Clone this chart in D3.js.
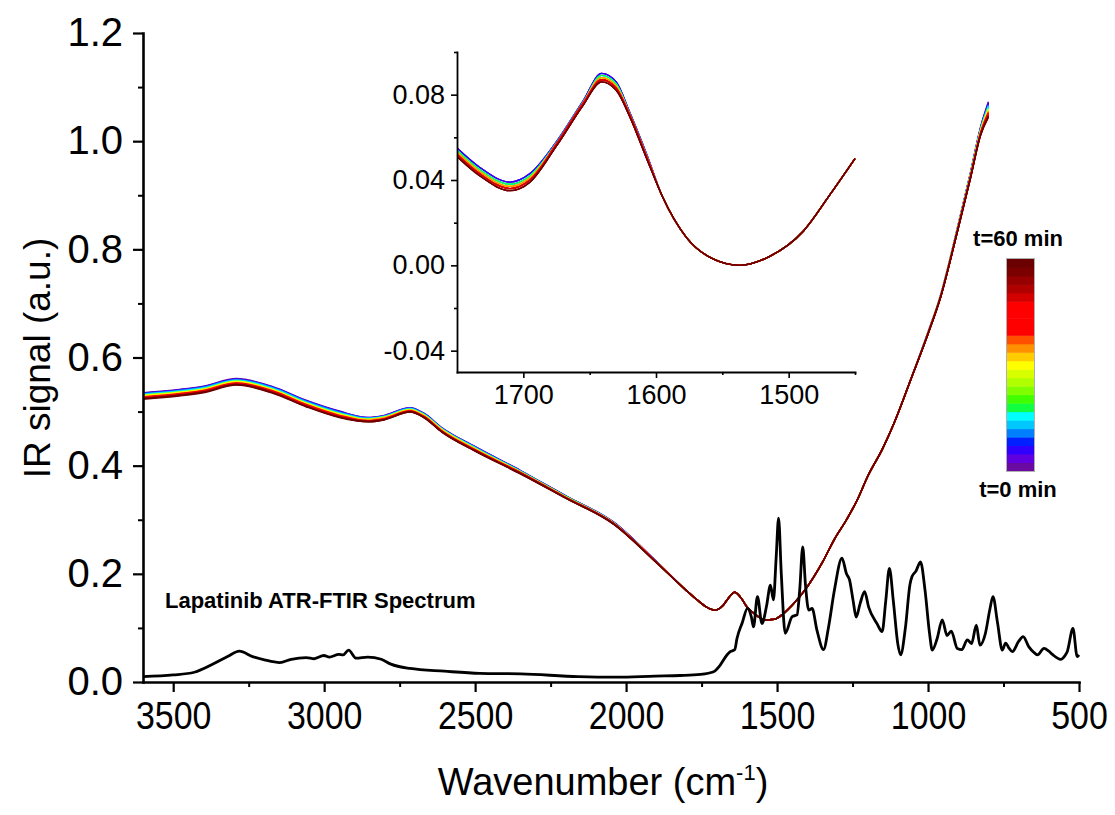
<!DOCTYPE html>
<html>
<head>
<meta charset="utf-8">
<script src="https://cdn.jsdelivr.net/npm/d3@7"></script>
<style>
  body { margin: 0; background: #fff; }
  svg { display: block; font-family: "Liberation Sans", Arial, sans-serif; }
</style>
</head>
<body>
<div id="chart"></div>
<script>
// time points of the in-situ spectra (min)
const spectraTimes = [0, 3, 6, 9, 12, 15, 18, 21, 24, 27, 30, 33, 36, 39, 42, 45, 48, 51, 54, 57, 60];

// time-resolved spectra, high wavenumber part (one row per time point)
const highWn = [3600, 3480, 3400, 3290, 3170, 3060, 2950, 2855, 2800, 2716, 2670, 2610, 2500, 2350, 2200, 2040, 1900];
const highSignal = [
  [0.535, 0.541, 0.547, 0.561, 0.546, 0.521, 0.501, 0.489, 0.493, 0.507, 0.497, 0.470, 0.435, 0.391, 0.344, 0.295, 0.223],
  [0.534, 0.540, 0.546, 0.560, 0.545, 0.520, 0.500, 0.489, 0.493, 0.507, 0.497, 0.470, 0.435, 0.391, 0.344, 0.295, 0.223],
  [0.534, 0.540, 0.546, 0.560, 0.545, 0.520, 0.500, 0.488, 0.492, 0.506, 0.496, 0.469, 0.434, 0.390, 0.344, 0.294, 0.223],
  [0.533, 0.539, 0.545, 0.559, 0.544, 0.519, 0.499, 0.488, 0.492, 0.506, 0.496, 0.469, 0.434, 0.390, 0.343, 0.294, 0.223],
  [0.532, 0.538, 0.544, 0.558, 0.543, 0.518, 0.498, 0.487, 0.491, 0.505, 0.495, 0.468, 0.433, 0.390, 0.343, 0.294, 0.222],
  [0.531, 0.537, 0.543, 0.557, 0.542, 0.517, 0.497, 0.487, 0.491, 0.505, 0.495, 0.468, 0.433, 0.389, 0.343, 0.294, 0.222],
  [0.530, 0.536, 0.542, 0.556, 0.541, 0.516, 0.496, 0.486, 0.490, 0.504, 0.494, 0.467, 0.432, 0.389, 0.343, 0.293, 0.222],
  [0.528, 0.534, 0.540, 0.554, 0.539, 0.514, 0.494, 0.484, 0.488, 0.502, 0.492, 0.465, 0.430, 0.388, 0.342, 0.293, 0.222],
  [0.529, 0.535, 0.541, 0.555, 0.540, 0.515, 0.495, 0.485, 0.489, 0.503, 0.493, 0.466, 0.431, 0.388, 0.342, 0.293, 0.222],
  [0.530, 0.536, 0.542, 0.556, 0.541, 0.516, 0.496, 0.486, 0.490, 0.504, 0.494, 0.467, 0.432, 0.388, 0.342, 0.293, 0.222],
  [0.529, 0.535, 0.541, 0.555, 0.540, 0.515, 0.495, 0.484, 0.488, 0.502, 0.492, 0.465, 0.430, 0.388, 0.342, 0.293, 0.222],
  [0.528, 0.534, 0.540, 0.554, 0.539, 0.514, 0.494, 0.485, 0.489, 0.503, 0.493, 0.466, 0.431, 0.388, 0.342, 0.293, 0.222],
  [0.527, 0.533, 0.539, 0.553, 0.538, 0.513, 0.493, 0.484, 0.488, 0.502, 0.492, 0.465, 0.430, 0.387, 0.342, 0.293, 0.222],
  [0.527, 0.533, 0.539, 0.553, 0.538, 0.513, 0.493, 0.483, 0.487, 0.501, 0.491, 0.464, 0.429, 0.387, 0.341, 0.293, 0.222],
  [0.526, 0.532, 0.538, 0.552, 0.537, 0.512, 0.492, 0.483, 0.487, 0.501, 0.491, 0.464, 0.429, 0.387, 0.341, 0.292, 0.222],
  [0.526, 0.532, 0.538, 0.552, 0.537, 0.512, 0.492, 0.482, 0.486, 0.500, 0.490, 0.463, 0.428, 0.387, 0.341, 0.292, 0.222],
  [0.525, 0.531, 0.537, 0.551, 0.536, 0.511, 0.491, 0.482, 0.486, 0.500, 0.490, 0.463, 0.428, 0.386, 0.341, 0.292, 0.222],
  [0.525, 0.531, 0.537, 0.551, 0.536, 0.511, 0.491, 0.482, 0.486, 0.500, 0.490, 0.463, 0.428, 0.386, 0.341, 0.292, 0.221],
  [0.524, 0.530, 0.536, 0.550, 0.535, 0.510, 0.490, 0.482, 0.486, 0.500, 0.490, 0.463, 0.428, 0.386, 0.340, 0.292, 0.221],
  [0.524, 0.530, 0.536, 0.550, 0.535, 0.510, 0.490, 0.481, 0.485, 0.499, 0.489, 0.462, 0.427, 0.385, 0.340, 0.292, 0.221],
  [0.523, 0.529, 0.535, 0.549, 0.534, 0.509, 0.489, 0.481, 0.485, 0.499, 0.489, 0.462, 0.427, 0.385, 0.340, 0.291, 0.221]
];

// middle part where all spectra overlap
const midWn = [1800, 1765, 1735, 1705, 1680, 1660, 1640, 1620, 1600, 1570, 1540, 1510, 1480, 1450, 1400, 1350, 1312, 1270, 1235, 1200, 1150, 1113, 1058];
const midSignal = [0.169, 0.152, 0.139, 0.133, 0.141, 0.156, 0.166, 0.156, 0.139, 0.124, 0.115, 0.116, 0.126, 0.142, 0.176, 0.221, 0.262, 0.300, 0.336, 0.380, 0.432, 0.478, 0.558];

// low wavenumber end (one row per time point)
const endWn = [1000, 959, 903, 860, 826, 800];
const endSignal = [
  [0.647, 0.714, 0.838, 0.940, 1.026, 1.073],
  [0.646, 0.714, 0.838, 0.940, 1.025, 1.071],
  [0.646, 0.713, 0.837, 0.939, 1.024, 1.069],
  [0.646, 0.713, 0.837, 0.938, 1.023, 1.067],
  [0.646, 0.713, 0.837, 0.938, 1.022, 1.065],
  [0.646, 0.713, 0.836, 0.937, 1.021, 1.063],
  [0.645, 0.712, 0.836, 0.936, 1.020, 1.061],
  [0.645, 0.712, 0.835, 0.934, 1.017, 1.057],
  [0.645, 0.712, 0.835, 0.935, 1.018, 1.059],
  [0.645, 0.712, 0.836, 0.936, 1.019, 1.060],
  [0.645, 0.712, 0.835, 0.935, 1.018, 1.058],
  [0.645, 0.712, 0.835, 0.934, 1.017, 1.056],
  [0.645, 0.712, 0.834, 0.934, 1.016, 1.055],
  [0.645, 0.711, 0.834, 0.933, 1.015, 1.053],
  [0.644, 0.711, 0.834, 0.933, 1.015, 1.052],
  [0.644, 0.711, 0.833, 0.932, 1.014, 1.051],
  [0.644, 0.711, 0.833, 0.932, 1.013, 1.049],
  [0.644, 0.711, 0.833, 0.931, 1.013, 1.048],
  [0.644, 0.711, 0.832, 0.931, 1.012, 1.047],
  [0.644, 0.710, 0.832, 0.930, 1.011, 1.046],
  [0.643, 0.710, 0.832, 0.930, 1.011, 1.044]
];

// inset: baseline corrected 1750-1450 cm-1
const insetHeadWn = [1750, 1733, 1710, 1695, 1675, 1655, 1641, 1630, 1620, 1607];
const insetHeadSignal = [
  [0.055, 0.046, 0.039, 0.043, 0.058, 0.077, 0.090, 0.086, 0.072, 0.052],
  [0.055, 0.046, 0.039, 0.043, 0.058, 0.077, 0.090, 0.086, 0.072, 0.052],
  [0.055, 0.046, 0.039, 0.043, 0.058, 0.077, 0.090, 0.086, 0.072, 0.052],
  [0.054, 0.045, 0.038, 0.042, 0.058, 0.077, 0.089, 0.085, 0.072, 0.052],
  [0.054, 0.045, 0.038, 0.042, 0.057, 0.076, 0.089, 0.085, 0.071, 0.051],
  [0.054, 0.045, 0.038, 0.042, 0.057, 0.076, 0.089, 0.085, 0.071, 0.051],
  [0.054, 0.045, 0.038, 0.042, 0.057, 0.076, 0.089, 0.085, 0.071, 0.051],
  [0.053, 0.044, 0.037, 0.041, 0.057, 0.076, 0.088, 0.084, 0.071, 0.051],
  [0.053, 0.044, 0.037, 0.041, 0.057, 0.076, 0.088, 0.084, 0.071, 0.051],
  [0.053, 0.044, 0.037, 0.041, 0.057, 0.076, 0.088, 0.084, 0.071, 0.051],
  [0.053, 0.044, 0.037, 0.041, 0.057, 0.076, 0.088, 0.084, 0.071, 0.051],
  [0.053, 0.044, 0.037, 0.041, 0.057, 0.076, 0.088, 0.084, 0.071, 0.051],
  [0.053, 0.044, 0.037, 0.041, 0.057, 0.076, 0.088, 0.084, 0.071, 0.051],
  [0.052, 0.043, 0.036, 0.040, 0.057, 0.076, 0.087, 0.083, 0.071, 0.051],
  [0.052, 0.043, 0.036, 0.040, 0.057, 0.076, 0.087, 0.083, 0.071, 0.051],
  [0.052, 0.043, 0.036, 0.040, 0.057, 0.076, 0.087, 0.083, 0.071, 0.051],
  [0.052, 0.043, 0.036, 0.040, 0.056, 0.075, 0.087, 0.083, 0.070, 0.050],
  [0.052, 0.043, 0.036, 0.040, 0.056, 0.075, 0.087, 0.083, 0.070, 0.050],
  [0.051, 0.042, 0.035, 0.039, 0.056, 0.075, 0.086, 0.082, 0.070, 0.050],
  [0.051, 0.042, 0.035, 0.039, 0.056, 0.075, 0.086, 0.082, 0.070, 0.050],
  [0.051, 0.042, 0.035, 0.039, 0.056, 0.075, 0.086, 0.082, 0.070, 0.050]
];
const insetTailWn = [1595, 1577, 1557, 1537, 1515, 1489, 1469, 1450];
const insetTailSignal = [0.032, 0.013, 0.003, 0.000, 0.004, 0.016, 0.033, 0.050];

// Lapatinib ATR-FTIR reference spectrum
const atrWn = [3600, 3500, 3430, 3365, 3320, 3281, 3237, 3198, 3147, 3109, 3059, 3033, 3001, 2983, 2951, 2938, 2919, 2894, 2856, 2811, 2779, 2716, 2602, 2484, 2348, 2158, 2031, 1904, 1821, 1754, 1710, 1690, 1666, 1655, 1640, 1633, 1615, 1598, 1585, 1578, 1565, 1550, 1535, 1522, 1512, 1503, 1495, 1486, 1473, 1450, 1434, 1425, 1415, 1406, 1395, 1384, 1368, 1346, 1330, 1310, 1285, 1270, 1260, 1248, 1238, 1225, 1210, 1197, 1169, 1152, 1140, 1128, 1115, 1100, 1091, 1075, 1060, 1053, 1040, 1025, 1010, 995, 986, 970, 953, 937, 923, 903, 888, 870, 856, 840, 828, 810, 795, 785, 770, 754, 743, 731, 721, 700, 685, 666, 650, 638, 616, 600, 588, 561, 545, 539, 520, 506, 500];
const atrSignal = [0.010, 0.013, 0.018, 0.034, 0.047, 0.057, 0.047, 0.041, 0.036, 0.042, 0.045, 0.043, 0.049, 0.046, 0.051, 0.050, 0.059, 0.044, 0.046, 0.042, 0.033, 0.025, 0.020, 0.016, 0.015, 0.010, 0.009, 0.011, 0.012, 0.014, 0.019, 0.030, 0.050, 0.056, 0.060, 0.080, 0.110, 0.136, 0.120, 0.102, 0.158, 0.108, 0.140, 0.179, 0.152, 0.230, 0.303, 0.200, 0.090, 0.121, 0.124, 0.170, 0.250, 0.180, 0.133, 0.136, 0.096, 0.060, 0.100, 0.170, 0.229, 0.200, 0.189, 0.150, 0.120, 0.145, 0.167, 0.139, 0.108, 0.093, 0.150, 0.210, 0.150, 0.070, 0.050, 0.100, 0.180, 0.195, 0.205, 0.222, 0.170, 0.090, 0.059, 0.080, 0.115, 0.086, 0.094, 0.062, 0.060, 0.078, 0.071, 0.105, 0.068, 0.090, 0.135, 0.158, 0.110, 0.059, 0.072, 0.062, 0.056, 0.075, 0.084, 0.065, 0.055, 0.050, 0.062, 0.057, 0.051, 0.042, 0.050, 0.056, 0.099, 0.047, 0.050];

// colour bar levels, t=0 (bottom) to t=60 (top)
const barColors = ['#6a0aa0', '#6000e0', '#3000ff', '#0020ff', '#0080ff', '#00c8ff', '#00ffff', '#10ff40', '#40ff00', '#80ff00', '#b0ff00', '#d8ff00', '#ffff00', '#ffcc00', '#ff9000', '#ff5000', '#ff0000', '#ff0000', '#ff0000', '#ff0000', '#d40000', '#b00000', '#960000', '#7d0000', '#6b0000'];

// ticks
const xMajor = [3500, 3000, 2500, 2000, 1500, 1000, 500];
const xMinor = [3250, 2750, 2250, 1750, 1250, 750];
const yMajor = [0, 0.2, 0.4, 0.6, 0.8, 1.0, 1.2];
const yMinor = [0.1, 0.3, 0.5, 0.7, 0.9, 1.1];
const insetXMajor = [1700, 1600, 1500];
const insetXMinor = [1650, 1550, 1450];
const insetYMajor = [-0.04, 0, 0.04, 0.08];
const insetYMinor = [-0.02, 0.02, 0.06, 0.10];

const width = 1115, height = 815;
const svg = d3.select('#chart').append('svg')
  .attr('width', width)
  .attr('height', height);
svg.append('rect').attr('width', width).attr('height', height).attr('fill', '#fff');

const x = d3.scaleLinear().domain([3600, 500]).range([143, 1079]);
const y = d3.scaleLinear().domain([0, 1.2]).range([682, 33]);

const curveColor = i => barColors[Math.round(i * (barColors.length - 1) / (spectraTimes.length - 1))];

// time-resolved spectra
const mainLine = d3.line().x(d => x(d[0])).y(d => y(d[1])).curve(d3.curveMonotoneX);
const spectra = spectraTimes.map((t, i) =>
  highWn.map((w, j) => [w, highSignal[i][j]])
    .concat(midWn.map((w, j) => [w, midSignal[j]]))
    .concat(endWn.map((w, j) => [w, endSignal[i][j]])));

svg.append('g').selectAll('path')
  .data(spectra)
  .join('path')
  .attr('d', mainLine)
  .attr('fill', 'none')
  .attr('stroke', (d, i) => curveColor(i))
  .attr('stroke-width', 1.5);

// ATR reference spectrum
svg.append('path')
  .datum(atrWn.map((w, j) => [w, atrSignal[j]]))
  .attr('d', mainLine)
  .attr('fill', 'none')
  .attr('stroke', '#000')
  .attr('stroke-width', 2.8)
  .attr('stroke-linejoin', 'round');

svg.append('text')
  .attr('x', 165).attr('y', 608)
  .attr('font-size', 22).attr('font-weight', 'bold')
  .text('Lapatinib ATR-FTIR Spectrum');

// axes helper
function styleAxis(g, fontSize, lineW, tickW) {
  g.attr('font-size', fontSize)
    .attr('font-family', '"Liberation Sans", Arial, sans-serif');
  g.selectAll('.domain').attr('stroke-width', lineW).attr('stroke-linecap', 'square');
  g.selectAll('.tick line').attr('stroke-width', tickW);
}

// main axes
const gx = svg.append('g').attr('transform', 'translate(0,682)')
  .call(d3.axisBottom(x).tickValues(xMajor).tickSize(10).tickSizeOuter(0).tickPadding(9).tickFormat(d3.format('d')));
styleAxis(gx, 39, 2.6, 2.2);
gx.selectAll('.tick text').attr('transform', 'scale(0.87,1)');
svg.append('g').attr('transform', 'translate(0,682)')
  .call(d3.axisBottom(x).tickValues(xMinor).tickSize(5).tickFormat(''))
  .call(g => g.select('.domain').remove())
  .call(g => g.selectAll('line').attr('stroke-width', 2));

const gy = svg.append('g').attr('transform', 'translate(143,0)')
  .call(d3.axisLeft(y).tickValues(yMajor).tickSize(10).tickSizeOuter(0).tickPadding(10).tickFormat(d3.format('.1f')));
styleAxis(gy, 40, 2.6, 2.2);
svg.append('g').attr('transform', 'translate(143,0)')
  .call(d3.axisLeft(y).tickValues(yMinor).tickSize(5).tickFormat(''))
  .call(g => g.select('.domain').remove())
  .call(g => g.selectAll('line').attr('stroke-width', 2));

svg.append('text')
  .attr('transform', 'translate(50,358) rotate(-90)')
  .attr('text-anchor', 'middle')
  .attr('font-size', 37)
  .text('IR signal (a.u.)');

const xTitle = svg.append('text')
  .attr('x', 603).attr('y', 795)
  .attr('text-anchor', 'middle')
  .attr('font-size', 38);
xTitle.append('tspan').text('Wavenumber (cm');
xTitle.append('tspan').attr('font-size', 22).attr('dy', -15).text('-1');
xTitle.append('tspan').attr('dy', 15).text(')');

// inset
const xi = d3.scaleLinear().domain([1750, 1450]).range([457, 855]);
const yi = d3.scaleLinear().domain([-0.05, 0.10]).range([372, 52]);

svg.append('defs').append('clipPath').attr('id', 'inset-clip')
  .append('rect').attr('x', 457).attr('y', 40).attr('width', 400).attr('height', 332);

const insetLine = d3.line().x(d => xi(d[0])).y(d => yi(d[1])).curve(d3.curveMonotoneX);
const insetSpectra = spectraTimes.map((t, i) =>
  insetHeadWn.map((w, j) => [w, insetHeadSignal[i][j]])
    .concat(insetTailWn.map((w, j) => [w, insetTailSignal[j]])));

svg.append('g').attr('clip-path', 'url(#inset-clip)')
  .selectAll('path')
  .data(insetSpectra)
  .join('path')
  .attr('d', insetLine)
  .attr('fill', 'none')
  .attr('stroke', (d, i) => curveColor(i))
  .attr('stroke-width', 1.3);

const gix = svg.append('g').attr('transform', 'translate(0,372)')
  .call(d3.axisBottom(xi).tickValues(insetXMajor).tickSize(6).tickSizeOuter(0).tickPadding(7).tickFormat(d3.format('d')));
styleAxis(gix, 27, 1.8, 1.6);
svg.append('g').attr('transform', 'translate(0,372)')
  .call(d3.axisBottom(xi).tickValues(insetXMinor).tickSize(3).tickFormat(''))
  .call(g => g.select('.domain').remove())
  .call(g => g.selectAll('line').attr('stroke-width', 1.6));

const giy = svg.append('g').attr('transform', 'translate(457,0)')
  .call(d3.axisLeft(yi).tickValues(insetYMajor).tickSize(6).tickSizeOuter(0).tickPadding(6).tickFormat(d => d.toFixed(2)));
styleAxis(giy, 27, 1.8, 1.6);
svg.append('g').attr('transform', 'translate(457,0)')
  .call(d3.axisLeft(yi).tickValues(insetYMinor).tickSize(3).tickFormat(''))
  .call(g => g.select('.domain').remove())
  .call(g => g.selectAll('line').attr('stroke-width', 1.6));

// colour bar
const barY = d3.scaleBand().domain(d3.range(barColors.length)).range([471, 259]);
const bar = svg.append('g');
bar.selectAll('rect')
  .data(barColors)
  .join('rect')
  .attr('x', 1007)
  .attr('y', (d, i) => barY(i))
  .attr('width', 27)
  .attr('height', barY.bandwidth() + 0.5)
  .attr('fill', d => d);
bar.append('rect')
  .attr('x', 1006.5).attr('y', 258.5).attr('width', 28).attr('height', 213)
  .attr('fill', 'none').attr('stroke', '#b0b0b0').attr('stroke-width', 1);

bar.append('text')
  .attr('x', 1018).attr('y', 246)
  .attr('text-anchor', 'middle')
  .attr('font-size', 22).attr('font-weight', 'bold')
  .text('t=60 min');
bar.append('text')
  .attr('x', 1018).attr('y', 497)
  .attr('text-anchor', 'middle')
  .attr('font-size', 22).attr('font-weight', 'bold')
  .text('t=0 min');
</script>
</body>
</html>
